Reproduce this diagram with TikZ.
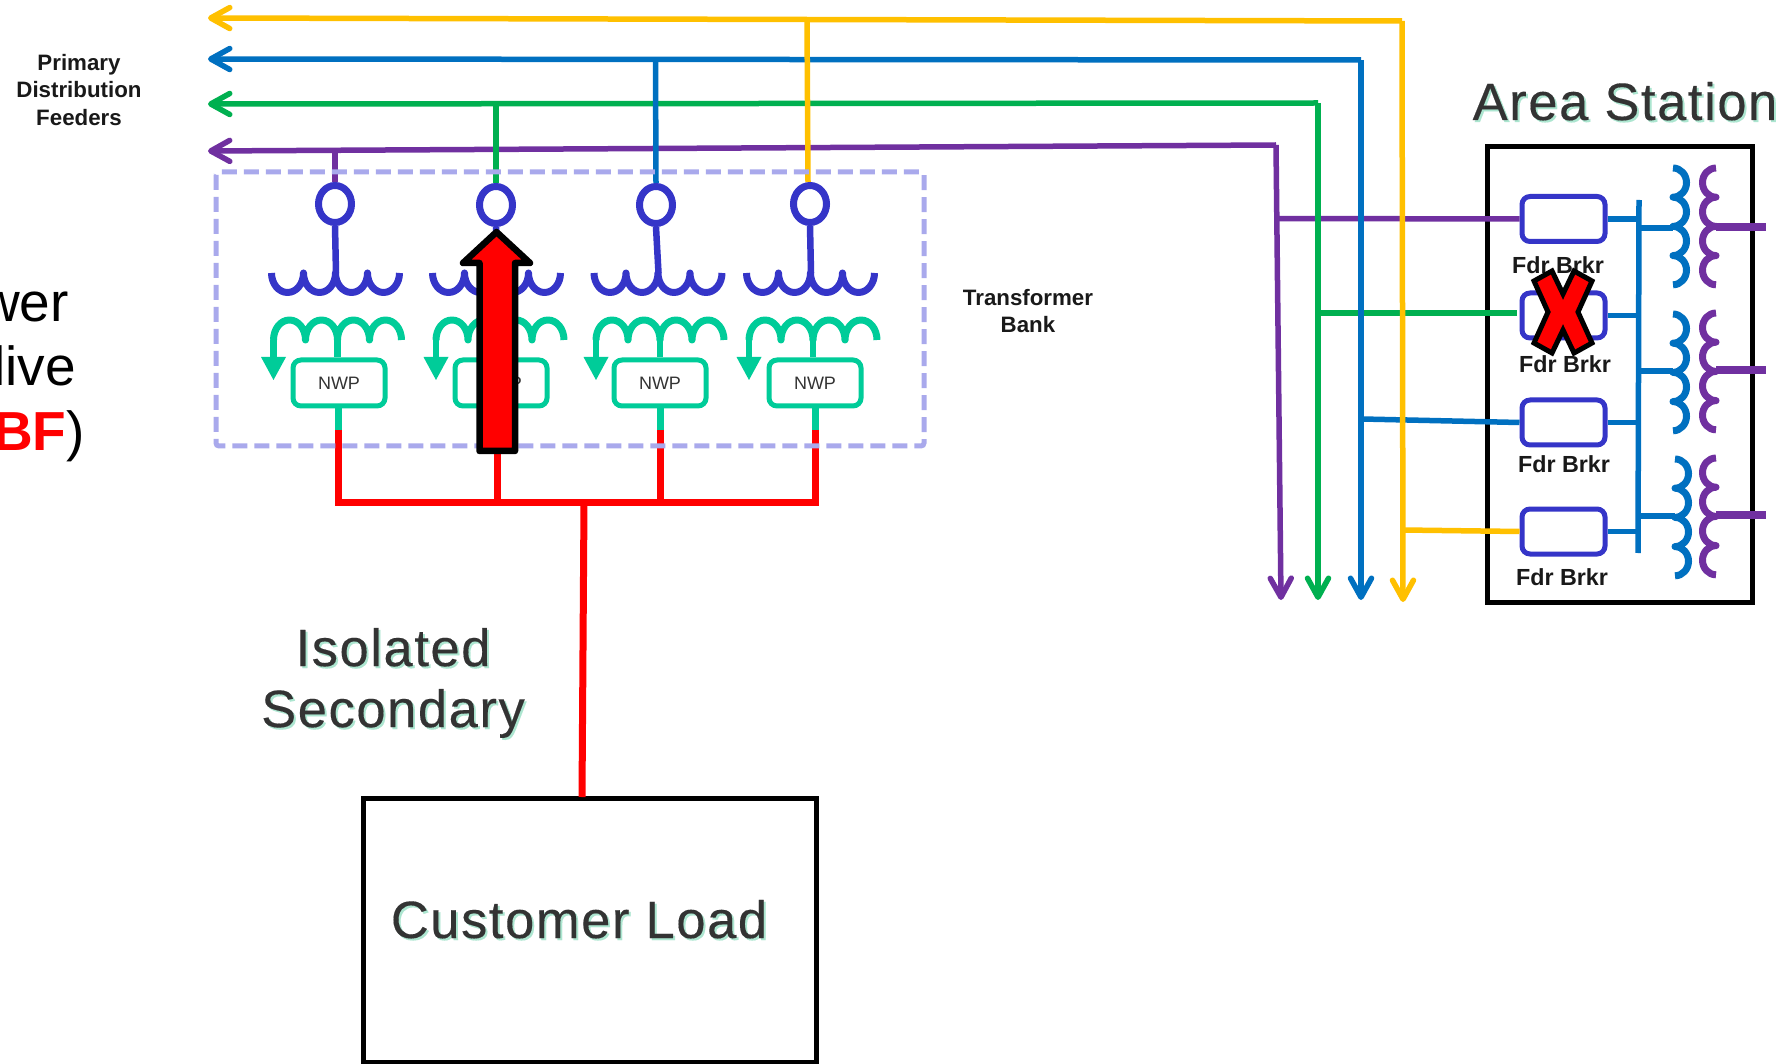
\documentclass[tikz,border=0pt]{standalone}
\usepackage{fontspec}
\usetikzlibrary{arrows.meta,shapes.geometric}
\setmainfont{Liberation Sans}
\newfontfamily\spacedsans[LetterSpace=3,FakeBold=0.25]{Liberation Sans}
\definecolor{cyellow}{HTML}{FFC000}
\definecolor{cblue}{HTML}{0070C0}
\definecolor{cgreen}{HTML}{00B050}
\definecolor{cpurple}{HTML}{7030A0}
\definecolor{cindigo}{HTML}{3535C8}
\definecolor{cteal}{HTML}{00CC99}
\definecolor{clav}{HTML}{A9A9EC}
\definecolor{cshadow}{HTML}{ACE6D0}
\definecolor{cdark}{HTML}{333333}
\newcommand\shadowtext[1]{\leavevmode\rlap{\raisebox{-2pt}{\kern2pt\textcolor{cshadow}{#1}}}\textcolor{cdark}{#1}}
\tikzset{
  feeder/.style={line width=5.5pt,-{Straight Barb[length=19pt,width=21pt,round,line width=5.5pt]}},
  wire/.style={line width=5.5pt},
  prim/.style={line width=7pt,draw=cindigo,line join=round},
  sec/.style={line width=7pt,draw=cteal,line join=round},
  redline/.style={line width=7pt,draw=red},
  nwpbox/.style={draw=cteal,line width=5pt,fill=white,rounded corners=8pt,minimum width=92pt,minimum height=46pt,inner sep=0pt,text=cdark,font=\fontsize{18}{20}\selectfont},
  brkbox/.style={draw=cindigo,line width=5pt,fill=white,rounded corners=8pt,minimum width=83pt,minimum height=45pt,inner sep=0pt},
  bushing/.style={ellipse,draw=cindigo,line width=7pt,minimum width=33pt,minimum height=37pt,inner sep=0pt},
  boldlabel/.style={font=\bfseries\fontsize{22.3}{27.5}\selectfont,align=center,text=black!90,inner sep=0pt},
  brklabel/.style={font=\bfseries\fontsize{23.3}{25}\selectfont,text=black!90,inner sep=0pt,anchor=base},
  biglabel/.style={font=\spacedsans\fontsize{52.5}{61}\selectfont,align=center,inner sep=0pt},
  sidelabel/.style={font=\fontsize{55}{60}\selectfont,inner sep=0pt,anchor=base east},
  hvcoil/.style={line width=7pt,draw=cblue,line join=round},
  lvcoil/.style={line width=7pt,draw=cpurple,line join=round},
}
\newcommand\primcoil[2]{% start x, y
  \draw[prim] (#1,#2) arc[start angle=180,end angle=360,x radius=16pt,y radius=19.5pt]
    arc[start angle=180,end angle=360,x radius=16pt,y radius=19.5pt]
    arc[start angle=180,end angle=360,x radius=16pt,y radius=19.5pt]
    arc[start angle=180,end angle=360,x radius=16pt,y radius=19.5pt];}
\newcommand\seccoil[2]{%
  \draw[sec] (#1,#2) arc[start angle=180,end angle=0,x radius=16pt,y radius=20pt]
    arc[start angle=180,end angle=0,x radius=16pt,y radius=20pt]
    arc[start angle=180,end angle=0,x radius=16pt,y radius=20pt]
    arc[start angle=180,end angle=0,x radius=16pt,y radius=20pt];}
\newcommand\sidecoil[4]{% style, x, top y, sweep end
  \draw[#1] (#2,#3) arc[start angle=90,end angle=#4,x radius=13.5pt,y radius=14.6pt]
    arc[start angle=90,end angle=#4,x radius=13.5pt,y radius=14.6pt]
    arc[start angle=90,end angle=#4,x radius=13.5pt,y radius=14.6pt]
    arc[start angle=90,end angle=#4,x radius=13.5pt,y radius=14.6pt];}
\begin{document}
\begin{tikzpicture}[x=1pt,y=-1pt]
\useasboundingbox (0,0) rectangle (1789,1064);
\clip (0,0) rectangle (1789,1064);
\fill[white] (0,0) rectangle (1789,1064);

% side text, cut by the picture edge
\node[sidelabel] (sidea) at (69,322) {wer};
\node[sidelabel] (sideb) at (76,386) {live};
\node[sidelabel] (sidec) at (85,450) {\textcolor{red}{\bfseries BF})};

% labels
\node[boldlabel] (lblfeeders) at (79,90) {Primary\\Distribution\\Feeders};
\node[boldlabel] (lblbank) at (1028,311) {Transformer\\Bank};
\node[biglabel,anchor=base] (lblarea) at (1625,120) {\shadowtext{Area Station}};
\node[biglabel] (lbliso) at (393,684) {\shadowtext{Isolated}\\\shadowtext{Secondary}};

% boxes
\node[draw=black,line width=5pt,minimum width=265pt,minimum height=455pt,inner sep=0pt] (area) at (1619.5,374.5) {};
\node[draw=black,line width=5pt,minimum width=453pt,minimum height=264pt,inner sep=0pt] (load) at (590,930) {};
\node[biglabel,anchor=base] (lblload) at (579,938) {\shadowtext{Customer Load}};

% feeder corners and ends
\coordinate (yc) at (1402,21);  \coordinate (ye) at (1403,602); \coordinate (yw) at (208,18);
\coordinate (bc) at (1361,60);  \coordinate (be) at (1361,600); \coordinate (bw) at (208,59);
\coordinate (gc) at (1318,103); \coordinate (ge) at (1318,600); \coordinate (gw) at (208,104);
\coordinate (pc) at (1276,145); \coordinate (pe) at (1281,600); \coordinate (pw) at (208,151);

% transformer units
\foreach \i/\cx/\cy/\px/\sx/\nx/\dx in {1/335/204/336/337.5/339/338, 2/496/205/497/500/501/497, 3/656/205/658.5/660/660/660, 4/810/204/811/813/815/815}{
  \node[bushing] (bush\i) at (\cx,\cy) {};
  \node[nwpbox] (nwp\i) at (\nx,383) {NWP};
  \coordinate (hub\i) at (\px,273);
  \coordinate (sechub\i) at (\sx,340);
  \coordinate (redtop\i) at (\dx,430);
  \coordinate (redbus\i) at (\dx,502);
  \pgfmathsetmacro\primx{\px-64.5}
  \pgfmathsetmacro\secx{\sx-64}
  \primcoil{\primx}{273}
  \seccoil{\secx}{340}
  \draw[prim,line width=6.5pt] (bush\i.south) -- (hub\i);
  \draw[sec,line width=6.5pt] (sechub\i) -- (nwp\i.north -| sechub\i);
  \draw[sec,line width=6.5pt] (\secx,340) -- (\secx,358);
  \fill[cteal] (\secx-12.5,357) -- (\secx+12.5,357) -- (\secx,380) -- cycle;
  \draw[line width=7pt,draw=cteal] (nwp\i.south -| redtop\i) -- (redtop\i);
  \draw[redline] (redtop\i) -- (redbus\i);
}
\draw[redline,line cap=rect] (redbus1) -- (redbus4);
\coordinate (loadtap) at (584,502);
\draw[redline] (loadtap) -- (582,797);

% feeder runs
\draw[draw=cpurple,feeder] (pc) -- (pw);
\draw[draw=cgreen,feeder] (gc) -- (gw);
\draw[draw=cblue,feeder] (bc) -- (bw);
\draw[draw=cyellow,feeder] (yc) -- (yw);

% taps
\coordinate (ytapbot) at (808,182);
\draw[wire,draw=cpurple] (335,150) -- (bush1.north);
\draw[wire,draw=cgreen] (496,104) -- (bush2.north);
\draw[wire,draw=cblue] (655.5,60) -- (bush3.north);
\draw[wire,draw=cyellow] (807,20) -- (ytapbot);

% breakers
\node[brkbox] (brk1) at (1563.5,219) {};
\node[brkbox] (brk2) at (1563.5,315.5) {};
\node[brkbox] (brk3) at (1563.5,422.5) {};
\node[brkbox] (brk4) at (1563.5,531.5) {};
\node[brklabel] (lbl1) at (1558,273.5) {Fdr Brkr};
\node[brklabel] (lbl2) at (1565,372.5) {Fdr Brkr};
\node[brklabel] (lbl3) at (1564,472.5) {Fdr Brkr};
\node[brklabel] (lbl4) at (1562,585) {Fdr Brkr};

% branch lines into the area station
\draw[wire,draw=cpurple] (1278,218.5) -- (brk1.west);
\draw[wire,draw=cgreen] (1319,313) -- (1517,313);
\draw[wire,draw=cblue] (1362,419) -- (brk3.west);
\draw[wire,draw=cyellow] (1403,530) -- (brk4.west);

% vertical feeder drops
\draw[feeder,draw=cpurple] (pc) -- (pe);
\draw[feeder,draw=cgreen] (gc) -- (ge);
\draw[feeder,draw=cblue] (bc) -- (be);
\draw[feeder,draw=cyellow] (yc) -- (ye);

% station bus
\coordinate (busT) at (1639,200);
\coordinate (busB) at (1638,553);
\draw[wire,draw=cblue] (busT) -- (busB);
\foreach \k in {1,2,3,4}{
  \draw[wire,draw=cblue] (brk\k.east) -- (brk\k.east -| busT);
}
\sidecoil{hvcoil}{1673}{168}{-90}
\sidecoil{hvcoil}{1673}{314}{-90}
\sidecoil{hvcoil}{1675}{459}{-90}
\sidecoil{lvcoil}{1716}{168}{270}
\sidecoil{lvcoil}{1716}{313}{270}
\sidecoil{lvcoil}{1716}{458}{270}
\draw[line width=6.5pt,draw=cblue] (1639,228) -- (1673,228);
\draw[line width=6.5pt,draw=cblue] (1639,371) -- (1673,371);
\draw[line width=6.5pt,draw=cblue] (1639,516) -- (1675,516);
\draw[line width=7.5pt,draw=cpurple] (1716,227) -- (1766,227);
\draw[line width=7.5pt,draw=cpurple] (1716,370) -- (1766,370);
\draw[line width=7.5pt,draw=cpurple] (1716,515) -- (1766,515);

% transformer bank outline
\draw[draw=clav,line width=5pt,dash pattern=on 15pt off 7pt,rounded corners=3pt] (216,172) rectangle (924,446);

% red markers
\draw[draw=black,fill=red,line width=6.5pt,line join=round]
  (496.5,232) -- (530,263) -- (515,263) -- (515,451) -- (479.5,451) -- (479.5,263) -- (463,263) -- cycle;
\draw[draw=black,fill=red,line width=5pt,line join=miter]
  (1534,281) -- (1552,271) -- (1563,294) -- (1574,271) -- (1592,281) -- (1578,312) -- (1592,343) -- (1574,353) -- (1563,330) -- (1552,353) -- (1534,343) -- (1548,312) -- cycle;
\end{tikzpicture}
\end{document}
